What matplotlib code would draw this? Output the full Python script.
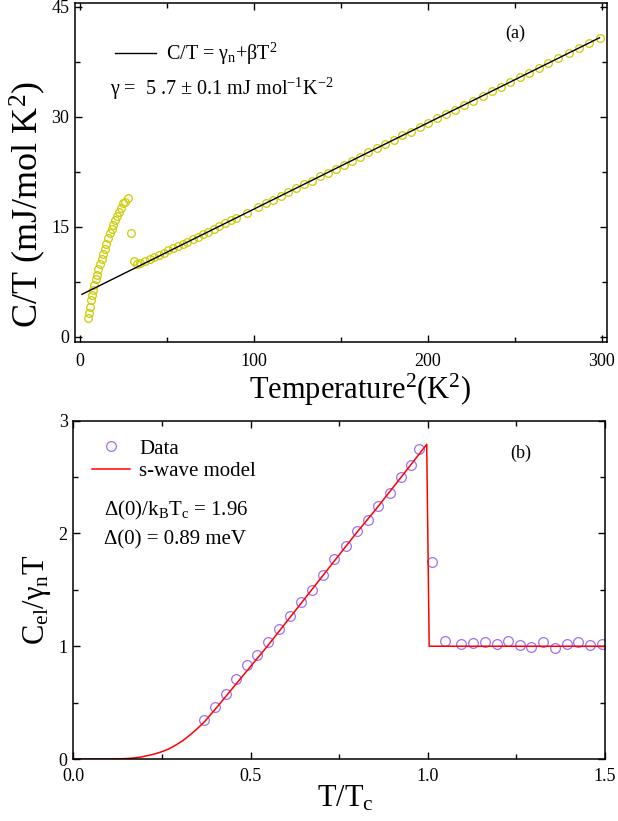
import matplotlib
matplotlib.use("Agg")
import matplotlib.pyplot as plt
from matplotlib.ticker import MultipleLocator

plt.rcParams['font.family'] = ['Liberation Serif', 'DejaVu Serif']
plt.rcParams['mathtext.default'] = 'regular'

# ---- panel (a): C/T vs T^2 ----
low_x = [4.2, 4.8, 5.4, 6.1, 6.7, 7.5, 8.2, 9.0, 9.8, 10.5, 11.3, 12.3, 13.2,
         14.2, 15.1, 16.1, 17.1, 18.0, 19.1, 20.1, 21.1, 22.2, 23.4, 24.5,
         25.6, 27.6, 29.3, 31.1, 32.8]
low_y = [2.6, 3.3, 4.1, 5.0, 5.7, 6.4, 7.1, 7.9, 8.5, 9.3, 10.0, 10.6, 11.3,
         12.0, 12.7, 13.5, 14.2, 14.7, 15.3, 16.0, 16.5, 17.0, 17.6, 18.2,
         18.4, 19.0, 14.2, 10.4, 10.0]
norm_x = [34.5, 37.2, 39.9, 42.6, 45.3, 48.0, 50.7, 53.4, 56.2, 58.9, 61.7,
          64.6, 67.5, 70.5, 73.6, 76.8, 80.0, 83.3, 86.6, 89.8, 95.8, 102.5,
          106.8, 111.1, 115.4, 119.8, 124.2, 128.7, 133.2, 137.7, 142.3, 146.9,
          151.6, 156.3, 161.0, 165.8, 170.6, 175.5, 180.4, 185.3, 190.3, 195.3,
          200.3, 205.4, 210.5, 215.7, 220.9, 226.1, 231.4, 236.7, 242.0, 247.4,
          252.8, 258.3, 263.8, 269.3, 274.9, 280.9, 286.8, 292.7, 298.7]
norm_y = [10.05, 10.3, 10.6, 10.9, 11.2, 11.5, 11.8, 12.1, 12.4, 12.7, 13.0,
          13.3, 13.6, 14.0, 14.35, 14.7, 15.1, 15.5, 15.9, 16.2, 16.9, 17.7,
          18.2, 18.7, 19.2, 19.8, 20.3, 20.8, 21.3, 21.9, 22.4, 22.9,
          23.5, 24.0, 24.6, 25.2, 25.7, 26.3, 26.9, 27.5, 28.0, 28.6,
          29.2, 29.8, 30.4, 31.0, 31.6, 32.2, 32.9, 33.5, 34.1, 34.7,
          35.4, 36.0, 36.7, 37.3, 38.0, 38.7, 39.4, 40.1, 40.8]
fit_x = [1.0, 298.7]
fit_y = [5.8, 40.8]

# ---- panel (b): Cel/gamma_n T vs T/Tc ----
t_data = [0.370, 0.400, 0.430, 0.460, 0.489, 0.519, 0.549, 0.580, 0.611,
          0.642, 0.673, 0.705, 0.736, 0.768, 0.799, 0.832, 0.860, 0.893,
          0.924, 0.953, 0.976, 1.011, 1.049, 1.094, 1.127, 1.162, 1.194,
          1.227, 1.259, 1.291, 1.325, 1.358, 1.392, 1.425, 1.458, 1.492]
c_data = [0.35, 0.46, 0.58, 0.71, 0.83, 0.92, 1.04, 1.15, 1.27,
          1.39, 1.50, 1.63, 1.77, 1.89, 2.02, 2.12, 2.24, 2.36,
          2.50, 2.61, 2.75, 1.75, 1.05, 1.02, 1.03, 1.04, 1.02,
          1.05, 1.01, 0.995, 1.04, 0.98, 1.02, 1.04, 1.01, 1.02]
# s-wave model curve
t_model = [0.00, 0.10, 0.13, 0.15, 0.17, 0.19, 0.21, 0.23, 0.25, 0.27, 0.29,
           0.31, 0.33, 0.35, 0.37, 0.40, 0.45, 0.50, 0.55, 0.60, 0.65, 0.70,
           0.75, 0.80, 0.85, 0.90, 0.95, 0.997, 1.004, 1.50]
c_model = [0.00, 0.00, 0.002, 0.004, 0.009, 0.017, 0.03, 0.045, 0.065, 0.09,
           0.125, 0.165, 0.215, 0.27, 0.33, 0.44, 0.63, 0.82, 1.01, 1.21,
           1.41, 1.61, 1.81, 2.01, 2.20, 2.40, 2.60, 2.79, 1.00, 1.00]

W, H = 618, 821
fig = plt.figure(figsize=(W / 100, H / 100), dpi=100)

def style_axes(ax):
    ax.tick_params(which='both', direction='in', top=True, right=True,
                   labelsize=13, width=1)
    ax.tick_params(which='major', length=5)
    ax.tick_params(which='minor', length=3.5)
    for s in ax.spines.values():
        s.set_linewidth(1.1)

# top panel
ax1 = fig.add_axes([75 / W, 1 - 342 / H, 532 / W, 338.7 / H])
ax1.plot(low_x + norm_x, low_y + norm_y, 'o', mfc='none', mec='#cccc00',
         ms=5.5, mew=0.9)
ax1.plot(fit_x, fit_y, '-', color='black', lw=1.0,
         label='C/T = γ$_{n}$+βT$^{2}$')
ax1.set_xlim(-3, 303)
ax1.set_ylim(-0.7, 45.5)
ax1.xaxis.set_major_locator(MultipleLocator(100))
ax1.xaxis.set_minor_locator(MultipleLocator(50))
ax1.yaxis.set_major_locator(MultipleLocator(15))
ax1.yaxis.set_minor_locator(MultipleLocator(7.5))
style_axes(ax1)
ax1.tick_params(axis='x', which='both', pad=8)
ax1.tick_params(axis='y', which='both', pad=4)
ax1.set_xlabel('Temperature$^{2}$(K$^{2}$)', fontsize=22)
ax1.xaxis.set_label_coords(0.536, -0.088)
ax1.set_ylabel('C/T (mJ/mol K$^{2}$)', fontsize=26)
ax1.yaxis.set_label_coords(-0.051, 0.407)
ax1.legend(loc='center left', bbox_to_anchor=(0.075, 0.85), frameon=False,
           fontsize=14.5, handlelength=2.05, handletextpad=0.5,
           borderpad=0, borderaxespad=0)
ax1.text(0.066, 0.729, 'γ =  5 .7 ± 0.1 mJ mol$^{-1}$K$^{-2}$',
         transform=ax1.transAxes, fontsize=14.5, va='baseline')
ax1.text(0.808, 0.898, '(a)', transform=ax1.transAxes, fontsize=13,
         va='baseline')

# bottom panel
ax2 = fig.add_axes([73.3 / W, 1 - 759 / H, 531.7 / W, 338.3 / H])
ax2.plot(t_data, c_data, 'o', mfc='none', mec='#a070f0', ms=7, mew=0.9,
         label='Data')
ax2.plot(t_model, c_model, '-', color='red', lw=1.1, label='s-wave model')
ax2.set_xlim(0, 1.5)
ax2.set_ylim(0, 3)
ax2.xaxis.set_major_locator(MultipleLocator(0.5))
ax2.xaxis.set_minor_locator(MultipleLocator(0.25))
ax2.yaxis.set_major_locator(MultipleLocator(1))
ax2.yaxis.set_minor_locator(MultipleLocator(0.5))
style_axes(ax2)
ax2.tick_params(axis='x', which='both', pad=6.5)
ax2.tick_params(axis='y', which='both', pad=4)
ax2.xaxis.set_major_formatter(matplotlib.ticker.FormatStrFormatter('%.1f'))
ax2.set_xlabel('T/T$_{c}$', fontsize=22)
ax2.xaxis.set_label_coords(0.511, -0.075)
ax2.set_ylabel('C$_{el}$/γ$_{n}$T', fontsize=22)
ax2.yaxis.set_label_coords(-0.038, 0.47)
ax2.legend(loc='upper left', bbox_to_anchor=(0.035, 0.946), frameon=False,
           fontsize=15, handlelength=1.83, handletextpad=0.43,
           labelspacing=0.15, borderpad=0, borderaxespad=0)
ax2.text(0.058, 0.721, 'Δ(0)/k$_{B}$T$_{c}$ = 1.96', transform=ax2.transAxes,
         fontsize=15, va='baseline')
ax2.text(0.058, 0.633, 'Δ(0) = 0.89 meV', transform=ax2.transAxes,
         fontsize=15, va='baseline')
ax2.text(0.821, 0.890, '(b)', transform=ax2.transAxes, fontsize=13,
         va='baseline')

fig.savefig('out.png', dpi=100)
